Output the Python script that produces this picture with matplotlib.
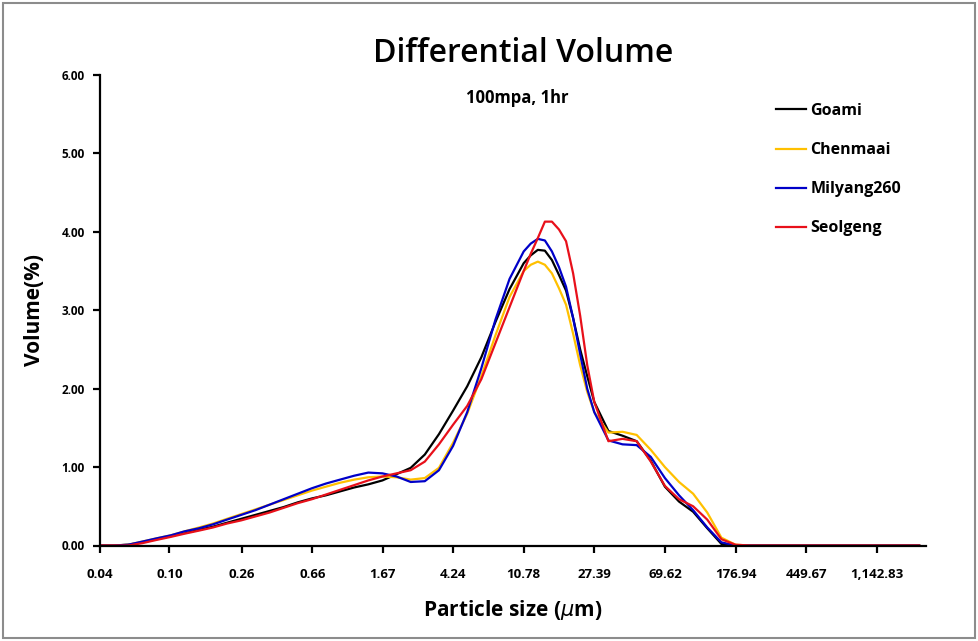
import matplotlib
matplotlib.use('Agg')
import matplotlib.pyplot as plt
from matplotlib.patches import Rectangle

'''data (read off the reference, size analyser channels; denser around the peak)'''
sizes = [0.040, 0.048, 0.058, 0.070, 0.084, 0.102, 0.122, 0.148, 0.178, 0.214,
         0.258, 0.311, 0.375, 0.452, 0.545, 0.657, 0.791, 0.953, 1.149, 1.385,
         1.669, 2.010, 2.423, 2.920, 3.519, 4.241, 5.111, 6.159, 7.422, 8.944,
         10.78, 11.83, 12.99, 14.26, 15.65, 17.18, 18.86, 20.71, 22.73, 24.95,
         27.39, 33.01, 39.78, 47.94, 57.77,
         69.62, 83.90, 101.1, 121.8, 146.8, 176.9, 213.2, 449.7, 948.3, 2000.0]

goami = [0, 0, 0.01, 0.04, 0.08, 0.12, 0.16, 0.20, 0.24, 0.29,
         0.34, 0.39, 0.44, 0.49, 0.55, 0.60, 0.64, 0.69, 0.74, 0.78,
         0.83, 0.91, 0.99, 1.16, 1.42, 1.72, 2.03, 2.40, 2.85, 3.27,
         3.60, 3.70, 3.77, 3.76, 3.64, 3.45, 3.25, 2.90, 2.50, 2.16,
         1.83, 1.46, 1.40, 1.33, 1.08,
         0.75, 0.56, 0.43, 0.22, 0.02, 0, 0, 0, 0, 0]

chenmaai = [0, 0, 0.01, 0.05, 0.09, 0.13, 0.18, 0.23, 0.28, 0.34,
            0.40, 0.46, 0.52, 0.58, 0.64, 0.70, 0.75, 0.80, 0.84, 0.87,
            0.88, 0.87, 0.84, 0.86, 0.99, 1.31, 1.68, 2.16, 2.68, 3.17,
            3.50, 3.58, 3.62, 3.58, 3.47, 3.28, 3.07, 2.70, 2.30, 1.96,
            1.70, 1.44, 1.45, 1.41, 1.22,
            1.00, 0.81, 0.66, 0.42, 0.10, 0.01, 0, 0, 0, 0]

milyang260 = [0, 0, 0.01, 0.05, 0.09, 0.13, 0.18, 0.22, 0.27, 0.33,
              0.39, 0.45, 0.52, 0.59, 0.66, 0.73, 0.79, 0.84, 0.89, 0.93,
              0.92, 0.88, 0.81, 0.82, 0.96, 1.27, 1.70, 2.26, 2.88, 3.40,
              3.75, 3.85, 3.91, 3.89, 3.75, 3.55, 3.30, 2.90, 2.44, 2.00,
              1.70, 1.34, 1.29, 1.28, 1.13,
              0.86, 0.64, 0.45, 0.23, 0.04, 0, 0, 0, 0, 0]

seolgeng = [0, 0, 0, 0.03, 0.07, 0.11, 0.15, 0.19, 0.23, 0.28,
            0.32, 0.37, 0.42, 0.48, 0.54, 0.59, 0.65, 0.71, 0.77, 0.83,
            0.88, 0.92, 0.96, 1.07, 1.29, 1.54, 1.78, 2.12, 2.58, 3.04,
            3.50, 3.72, 3.92, 4.13, 4.13, 4.03, 3.88, 3.47, 2.93, 2.30,
            1.83, 1.33, 1.36, 1.33, 1.07,
            0.76, 0.59, 0.50, 0.33, 0.08, 0.01, 0, 0, 0, 0]

names = ['Goami', 'Chenmaai', 'Milyang260', 'Seolgeng']
colors = ['#000000', '#FFC000', '#0000C8', '#E8101A']
tick_labels = ['0.04', '0.10', '0.26', '0.66', '1.67', '4.24', '10.78',
               '27.39', '69.62', '176.94', '449.67', '1,142.83']
y_ticks = [0, 1, 2, 3, 4, 5, 6]

plt.rcParams['font.family'] = ['Open Sans', 'DejaVu Sans']

'''plot'''
fig = plt.figure(figsize=(9.79, 6.41), dpi=100)
ax = fig.add_axes([100 / 979, 1 - 545.5 / 641, 826 / 979, 470.5 / 641])

for vals, name, c in zip([goami, chenmaai, milyang260, seolgeng], names, colors):
    ax.plot(sizes, vals, color=c, lw=1.6, label=name, solid_joinstyle='round')

ax.set_xscale('log')
ax.set_xlim(0.04, 2190)
ax.set_ylim(0, 6)
ticks = [float(s.replace(',', '')) for s in tick_labels]
ax.set_xticks(ticks)
ax.set_xticklabels(tick_labels)
ax.xaxis.set_minor_locator(matplotlib.ticker.NullLocator())
ax.set_yticks(y_ticks)
ax.set_yticklabels(['%.2f' % v for v in y_ticks])

for s in ['top', 'right']:
    ax.spines[s].set_visible(False)
for s in ['left', 'bottom']:
    ax.spines[s].set_linewidth(1.6)
ax.tick_params(axis='x', direction='out', length=5, width=1.6, pad=11, labelsize=9.5)
ax.tick_params(axis='y', direction='out', length=5, width=1.6, pad=6, labelsize=8.5)
for lab in ax.get_xticklabels() + ax.get_yticklabels():
    lab.set_fontweight('bold')

fig.text(523 / 979, 1 - 54 / 641, 'Differential Volume', ha='center', va='center',
         fontsize=23, fontweight='semibold')
fig.text(517 / 979, 1 - 98 / 641, '100mpa, 1hr', ha='center', va='center', fontsize=12, fontweight='bold')
fig.text(35 / 979, 1 - 310 / 641, 'Volume(%)', ha='center', va='center', rotation=90,
         fontsize=15, fontweight='bold')
fig.text(513 / 979, 1 - 610 / 641, r'Particle size ($\mu$m)', ha='center', va='center',
         fontsize=15, fontweight='bold')

ax.legend(loc='upper left', bbox_to_anchor=(776 / 979, 1 - 103 / 641), bbox_transform=fig.transFigure,
          frameon=False, borderpad=0, borderaxespad=0, handlelength=1.9, handletextpad=0.25,
          labelspacing=1.45, prop={'weight': 'bold', 'size': 11.5})

fig.patches.append(Rectangle((3 / 979, 3 / 641), 972 / 979, 635 / 641, transform=fig.transFigure,
                             fill=False, edgecolor='#8c8c8c', lw=1.5))

plt.savefig('out.png', dpi=100)
